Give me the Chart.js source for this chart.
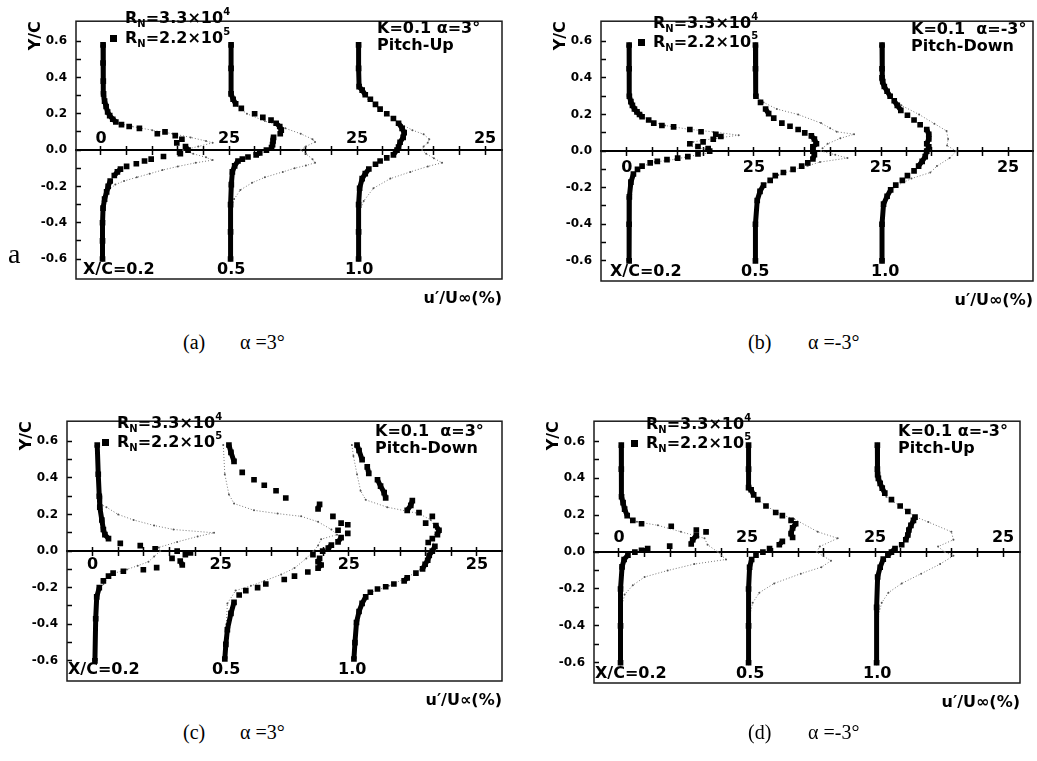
<!DOCTYPE html>
<html>
<head>
<meta charset="utf-8">
<script src="https://cdn.jsdelivr.net/npm/chart.js@4.4.0/dist/chart.umd.min.js"></script>
<style>
body { margin: 0; background: #fff; width: 1037px; height: 761px; position: relative; overflow: hidden; font-family: "DejaVu Sans", sans-serif; }
canvas { position: absolute; }
.t { position: absolute; font-weight: bold; font-size: 16px; line-height: 1; white-space: pre; color: #000; }
.t sub { font-size: 10px; vertical-align: -4px; line-height: 0; }
.t sup { font-size: 10px; vertical-align: 8px; line-height: 0; }
.mk { display: inline-block; width: 7px; height: 7px; background: #000; margin-right: 8px; vertical-align: 1px; }
.cap { position: absolute; font-family: "Liberation Serif", serif; font-size: 20px; line-height: 1; white-space: pre; color: #000; }
</style>
</head>
<body>
<canvas id="pa" width="494" height="311" style="left:26px;top:0px"></canvas>
<canvas id="pb" width="486" height="313" style="left:551px;top:0px"></canvas>
<canvas id="pc" width="503" height="313" style="left:17px;top:400px"></canvas>
<canvas id="pd" width="493" height="315" style="left:544px;top:400px"></canvas>

<!-- (a) -->
<div class="t" style="left:125px;top:10px">R<sub>N</sub>=3.3×10<sup>4</sup></div>
<div class="t" style="left:110px;top:30px"><span class="mk"></span>R<sub>N</sub>=2.2×10<sup>5</sup></div>
<div class="t" style="left:377px;top:20px">K=0.1 α=3°</div>
<div class="t" style="left:377px;top:37px">Pitch-Up</div>
<div class="t" style="left:83px;top:261px">X/C=0.2</div>
<div class="t" style="left:217px;top:261px">0.5</div>
<div class="t" style="left:345px;top:261px">1.0</div>
<div class="cap" style="left:8px;top:240px;font-size:28px">a</div>
<div class="cap" style="left:183px;top:332px">(a)</div>
<div class="cap" style="left:240px;top:332px">α =3°</div>

<!-- (b) -->
<div class="t" style="left:653px;top:15px">R<sub>N</sub>=3.3×10<sup>4</sup></div>
<div class="t" style="left:638px;top:34px"><span class="mk"></span>R<sub>N</sub>=2.2×10<sup>5</sup></div>
<div class="t" style="left:911px;top:21px">K=0.1  α=-3°</div>
<div class="t" style="left:911px;top:38px">Pitch-Down</div>
<div class="t" style="left:610px;top:263px">X/C=0.2</div>
<div class="t" style="left:741px;top:263px">0.5</div>
<div class="t" style="left:871px;top:263px">1.0</div>
<div class="cap" style="left:748px;top:332px">(b)</div>
<div class="cap" style="left:808px;top:332px">α =-3°</div>

<!-- (c) -->
<div class="t" style="left:117px;top:415px">R<sub>N</sub>=3.3×10<sup>4</sup></div>
<div class="t" style="left:102px;top:434px"><span class="mk"></span>R<sub>N</sub>=2.2×10<sup>5</sup></div>
<div class="t" style="left:375px;top:423px">K=0.1  α=3°</div>
<div class="t" style="left:375px;top:440px">Pitch-Down</div>
<div class="t" style="left:68px;top:661px">X/C=0.2</div>
<div class="t" style="left:212px;top:661px">0.5</div>
<div class="t" style="left:338px;top:661px">1.0</div>
<div class="cap" style="left:183px;top:722px">(c)</div>
<div class="cap" style="left:240px;top:722px">α =3°</div>

<!-- (d) -->
<div class="t" style="left:646px;top:416px">R<sub>N</sub>=3.3×10<sup>4</sup></div>
<div class="t" style="left:631px;top:435px"><span class="mk"></span>R<sub>N</sub>=2.2×10<sup>5</sup></div>
<div class="t" style="left:898px;top:423px">K=0.1 α=-3°</div>
<div class="t" style="left:898px;top:440px">Pitch-Up</div>
<div class="t" style="left:595px;top:665px">X/C=0.2</div>
<div class="t" style="left:736px;top:665px">0.5</div>
<div class="t" style="left:863px;top:665px">1.0</div>
<div class="cap" style="left:748px;top:722px">(d)</div>
<div class="cap" style="left:808px;top:722px">α =-3°</div>

<script>
// profiles are drawn at X/C = 0.2, 0.5, 1.0, each shifted 25 % along u'/U∞
const stationBase = [0, 25, 50];

const xTickValues = [0, 5, 10, 15, 20, 25, 30, 35, 40, 45, 50, 55, 60, 65, 70, 75];
const xMajorValues = [0, 25, 50, 75];
const xMajorLabels = ['0', '25', '25', '25'];
const yTickValues = [-0.6, -0.5, -0.4, -0.3, -0.2, -0.1, 0, 0.1, 0.2, 0.3, 0.4, 0.5, 0.6];
const yLabelValues = [-0.6, -0.4, -0.2, 0, 0.2, 0.4, 0.6];
const yTickLabels = ['-0.6', '-0.4', '-0.2', '0.0', '0.2', '0.4', '0.6'];

// ---- (a) K=0.1 α=3° pitch-up ----
// "s" = RN=2.2x10^5 (squares), "d" = RN=3.3x10^4 (small dots)
const aY1s = [0.58, 0.48, 0.38, 0.31, 0.27, 0.24, 0.21, 0.19, 0.17, 0.155, 0.14, 0.13, 0.12, 0.10, 0.09, 0.08, 0.06, 0.04, 0.02, 0.0, -0.02, -0.035, -0.05, -0.06, -0.075, -0.09, -0.105, -0.12, -0.14, -0.17, -0.2, -0.23, -0.27, -0.32, -0.4, -0.5, -0.6];
const aU1s = [0.4, 0.4, 0.45, 0.5, 0.7, 1.0, 1.3, 1.7, 2.3, 2.9, 4.0, 5.5, 7.5, 12.5, 11.0, 14.5, 15.8, 14.8, 16.5, 17.0, 15.5, 12.2, 9.8, 8.5, 6.9, 5.0, 3.8, 3.2, 2.6, 1.8, 1.4, 1.1, 0.7, 0.4, 0.3, 0.3, 0.3];
const aY1d = [0.58, 0.4, 0.3, 0.22, 0.18, 0.15, 0.13, 0.11, 0.09, 0.07, 0.05, 0.04, 0.02, 0.0, -0.02, -0.04, -0.055, -0.07, -0.09, -0.11, -0.13, -0.15, -0.17, -0.19, -0.22, -0.26, -0.35, -0.6];
const aU1d = [0.4, 0.4, 0.5, 1.1, 1.8, 3.0, 6.0, 10.0, 14.0, 17.5, 20.5, 21.8, 19.0, 16.0, 18.0, 20.5, 21.8, 18.5, 15.0, 12.0, 9.5, 7.0, 4.5, 2.8, 1.5, 0.7, 0.3, 0.3];
const aY2s = [0.58, 0.45, 0.31, 0.28, 0.255, 0.23, 0.2, 0.18, 0.165, 0.148, 0.13, 0.11, 0.09, 0.07, 0.05, 0.03, 0.014, 0.0, -0.015, -0.026, -0.038, -0.05, -0.06, -0.087, -0.12, -0.19, -0.3, -0.45, -0.6];
const aU2s = [0.4, 0.4, 0.4, 0.8, 1.3, 2.4, 5.0, 6.6, 8.2, 9.2, 9.9, 10.2, 10.0, 8.7, 8.6, 8.5, 8.3, 7.3, 6.0, 5.3, 3.7, 2.6, 1.75, 1.1, 0.65, 0.45, 0.3, 0.3, 0.3];
const aY2d = [0.58, 0.4, 0.28, 0.25, 0.2, 0.16, 0.12, 0.09, 0.06, 0.045, 0.02, 0.0, -0.02, -0.05, -0.07, -0.085, -0.1, -0.12, -0.15, -0.18, -0.22, -0.27, -0.32, -0.6];
const aU2d = [0.4, 0.4, 0.6, 1.2, 3.5, 7.0, 11.0, 14.0, 16.3, 16.8, 15.0, 14.0, 15.0, 16.3, 16.8, 15.0, 12.8, 10.5, 7.0, 4.5, 2.2, 1.0, 0.5, 0.3];
const aY3s = [0.58, 0.45, 0.35, 0.33, 0.305, 0.28, 0.252, 0.226, 0.2, 0.174, 0.148, 0.12, 0.096, 0.07, 0.043, 0.017, 0.0, -0.026, -0.043, -0.06, -0.078, -0.104, -0.13, -0.157, -0.21, -0.3, -0.45, -0.6];
const aU3s = [0.3, 0.3, 0.4, 1.0, 1.6, 2.6, 3.6, 4.5, 5.8, 7.1, 8.1, 8.8, 9.2, 9.0, 8.4, 8.1, 7.8, 7.1, 5.8, 4.5, 3.6, 2.3, 1.6, 1.0, 0.5, 0.3, 0.3, 0.3];
const aY3d = [0.58, 0.4, 0.33, 0.28, 0.23, 0.18, 0.14, 0.11, 0.087, 0.06, 0.04, 0.02, 0.0, -0.02, -0.045, -0.07, -0.09, -0.12, -0.157, -0.21, -0.28, -0.33, -0.6];
const aU3d = [0.3, 0.3, 0.8, 2.2, 4.2, 6.8, 8.8, 10.8, 13.0, 14.1, 13.8, 13.0, 12.7, 13.5, 15.0, 16.6, 13.8, 10.4, 6.5, 3.2, 1.3, 0.6, 0.3];

// ---- (b) K=0.1 α=-3° pitch-down ----
const bY1s = [0.58, 0.45, 0.3, 0.27, 0.25, 0.23, 0.214, 0.2, 0.188, 0.17, 0.153, 0.14, 0.132, 0.118, 0.106, 0.092, 0.08, 0.065, 0.05, 0.04, 0.025, 0.014, 0.0, -0.015, -0.03, -0.038, -0.047, -0.056, -0.064, -0.082, -0.1, -0.125, -0.17, -0.25, -0.4, -0.6];
const bU1s = [0.45, 0.45, 0.5, 0.8, 1.1, 1.5, 2.0, 2.5, 3.0, 4.3, 5.3, 6.9, 9.2, 12.4, 14.6, 17.5, 18.5, 17.0, 15.0, 12.4, 14.0, 16.0, 16.3, 14.0, 12.0, 10.0, 7.9, 6.0, 4.6, 3.0, 2.1, 1.3, 0.8, 0.5, 0.45, 0.45];
const bY1d = [0.58, 0.4, 0.25, 0.2, 0.16, 0.14, 0.12, 0.105, 0.087, 0.07, 0.05, 0.03, 0.01, -0.01, -0.03, -0.045, -0.06, -0.08, -0.1, -0.13, -0.17, -0.25, -0.6];
const bU1d = [0.45, 0.45, 1.1, 2.5, 5.0, 7.5, 12.0, 17.0, 22.0, 17.5, 13.0, 12.0, 15.5, 16.0, 12.0, 9.5, 5.5, 3.3, 2.2, 1.4, 0.8, 0.5, 0.45];
const bY2s = [0.58, 0.45, 0.3, 0.266, 0.23, 0.205, 0.18, 0.153, 0.136, 0.118, 0.1, 0.083, 0.066, 0.04, 0.023, 0.0, -0.02, -0.043, -0.064, -0.082, -0.1, -0.117, -0.134, -0.16, -0.186, -0.22, -0.27, -0.4, -0.6];
const bU2s = [0.3, 0.3, 0.4, 1.3, 2.3, 2.9, 3.9, 5.5, 7.1, 8.7, 10.0, 11.3, 11.9, 12.3, 11.6, 11.6, 11.9, 11.6, 10.6, 9.4, 7.7, 5.8, 4.2, 3.2, 1.9, 1.2, 0.65, 0.3, 0.3];
const bY2d = [0.58, 0.4, 0.3, 0.266, 0.23, 0.2, 0.153, 0.125, 0.106, 0.092, 0.07, 0.04, 0.015, 0.0, -0.02, -0.038, -0.06, -0.08, -0.1, -0.13, -0.16, -0.2, -0.27, -0.6];
const bU2d = [0.3, 0.3, 0.5, 1.9, 4.5, 8.7, 13.2, 15.0, 16.3, 19.7, 17.0, 14.5, 13.5, 13.2, 16.0, 18.4, 13.0, 10.6, 8.0, 4.8, 3.0, 1.6, 0.65, 0.3];
const bY3s = [0.58, 0.45, 0.4, 0.38, 0.353, 0.327, 0.3, 0.275, 0.25, 0.223, 0.196, 0.17, 0.144, 0.118, 0.092, 0.066, 0.04, 0.023, 0.0, -0.03, -0.056, -0.082, -0.108, -0.134, -0.16, -0.186, -0.212, -0.247, -0.29, -0.4, -0.6];
const bU3s = [0.2, 0.2, 0.2, 0.35, 0.65, 1.2, 1.8, 2.6, 3.2, 3.9, 5.2, 6.5, 7.7, 9.0, 9.4, 9.4, 9.0, 9.4, 9.0, 8.7, 8.1, 7.4, 6.5, 5.2, 4.2, 2.9, 1.9, 1.2, 0.5, 0.2, 0.2];
const bY3d = [0.58, 0.4, 0.3, 0.25, 0.2, 0.15, 0.11, 0.066, 0.03, 0.0, -0.038, -0.082, -0.117, -0.15, -0.19, -0.25, -0.3, -0.6];
const bU3d = [0.2, 0.2, 1.8, 4.0, 7.5, 10.5, 12.9, 13.2, 13.0, 14.8, 13.5, 11.0, 9.7, 6.0, 3.0, 1.1, 0.5, 0.2];

// ---- (c) K=0.1 α=3° pitch-down ----
const cY1s = [0.58, 0.42, 0.3, 0.24, 0.17, 0.118, 0.09, 0.068, 0.042, 0.03, 0.012, 0.0, -0.01, -0.02, -0.04, -0.054, -0.076, -0.09, -0.102, -0.11, -0.12, -0.137, -0.163, -0.2, -0.25, -0.37, -0.6];
const cU1s = [0.9, 1.1, 1.3, 1.4, 1.8, 2.1, 2.4, 3.1, 5.4, 9.3, 12.2, 16.5, 19.1, 18.1, 15.5, 17.1, 17.5, 12.5, 9.9, 6.0, 4.0, 3.1, 2.1, 1.3, 0.8, 0.6, 0.45];
const cY1d = [0.58, 0.4, 0.26, 0.24, 0.2, 0.17, 0.14, 0.118, 0.1, 0.08, 0.05, 0.02, 0.0, -0.03, -0.058, -0.08, -0.1, -0.128, -0.18, -0.25, -0.6];
const cU1d = [0.9, 1.0, 1.3, 2.7, 5.0, 8.0, 12.0, 15.8, 23.7, 20.5, 16.5, 12.9, 13.2, 12.0, 10.9, 8.8, 6.7, 3.4, 2.1, 0.8, 0.45];
const cY2s = [0.58, 0.54, 0.49, 0.43, 0.39, 0.36, 0.33, 0.29, 0.255, 0.23, 0.19, 0.153, 0.144, 0.114, 0.097, 0.074, 0.05, 0.033, 0.016, 0.0, -0.02, -0.04, -0.058, -0.076, -0.093, -0.114, -0.137, -0.155, -0.18, -0.2, -0.216, -0.24, -0.28, -0.34, -0.43, -0.51, -0.59];
const cU2s = [1.6, 2.0, 2.6, 4.2, 6.5, 8.5, 10.8, 12.7, 19.3, 19.0, 21.9, 23.5, 24.8, 22.9, 24.8, 23.5, 22.9, 21.6, 21.0, 19.9, 18.0, 19.3, 19.0, 19.6, 19.0, 17.0, 14.4, 12.4, 8.8, 7.2, 4.9, 3.6, 2.6, 2.0, 1.3, 1.0, 0.8];
const cY2d = [0.58, 0.42, 0.31, 0.26, 0.223, 0.205, 0.19, 0.16, 0.118, 0.09, 0.065, 0.03, 0.0, -0.04, -0.093, -0.128, -0.163, -0.19, -0.216, -0.286, -0.4, -0.59];
const cU2d = [0.5, 0.8, 1.6, 2.6, 6.5, 11.1, 15.7, 19.0, 21.6, 22.7, 19.6, 19.0, 18.1, 16.7, 14.4, 11.8, 8.5, 5.9, 2.9, 1.3, 1.1, 0.8];
const cY3s = [0.58, 0.55, 0.5, 0.46, 0.425, 0.39, 0.355, 0.32, 0.29, 0.276, 0.25, 0.223, 0.21, 0.19, 0.153, 0.14, 0.114, 0.09, 0.068, 0.047, 0.026, 0.0, -0.023, -0.05, -0.072, -0.097, -0.12, -0.146, -0.163, -0.18, -0.195, -0.207, -0.225, -0.25, -0.286, -0.33, -0.39, -0.5, -0.59];
const cU3s = [1.6, 2.0, 2.6, 3.6, 3.9, 5.6, 6.2, 6.9, 7.2, 12.4, 12.1, 11.4, 13.7, 16.3, 15.0, 17.0, 17.6, 17.3, 16.3, 15.5, 16.8, 16.3, 15.7, 15.4, 14.9, 14.4, 13.1, 11.4, 10.8, 8.8, 7.2, 5.6, 4.2, 3.3, 2.6, 2.0, 1.5, 1.2, 1.0];
const cY3d = [0.58, 0.52, 0.42, 0.33, 0.28, 0.24, 0.205, 0.17, 0.12, 0.07, 0.03, 0.0, -0.05, -0.1, -0.15, -0.19, -0.23, -0.3, -0.4, -0.59];
const cU3d = [0.6, 0.9, 1.6, 2.3, 3.3, 7.5, 13.7, 16.0, 17.0, 16.5, 16.5, 16.8, 15.0, 14.0, 11.0, 7.8, 4.0, 2.3, 1.5, 1.0];

// ---- (d) K=0.1 α=-3° pitch-up ----
const dY1s = [0.58, 0.45, 0.3, 0.268, 0.233, 0.198, 0.172, 0.154, 0.14, 0.12, 0.11, 0.089, 0.067, 0.044, 0.032, 0.019, 0.01, 0.0, -0.016, -0.04, -0.08, -0.2, -0.4, -0.6];
const dU1s = [0.45, 0.45, 0.5, 0.8, 1.1, 1.6, 2.7, 4.4, 10.2, 15.1, 17.0, 15.1, 14.4, 14.1, 9.9, 5.6, 4.4, 3.1, 1.75, 1.0, 0.6, 0.3, 0.3, 0.3];
const dY1d = [0.58, 0.4, 0.25, 0.19, 0.165, 0.145, 0.11, 0.075, 0.04, 0.0, -0.04, -0.065, -0.1, -0.135, -0.18, -0.23, -0.3, -0.6];
const dU1d = [0.45, 0.45, 0.9, 1.6, 3.5, 7.6, 12.1, 16.7, 17.3, 19.3, 20.9, 14.7, 9.5, 5.0, 2.7, 1.1, 0.5, 0.3];
const dY2s = [0.58, 0.45, 0.35, 0.338, 0.31, 0.285, 0.25, 0.215, 0.198, 0.172, 0.154, 0.131, 0.1, 0.079, 0.058, 0.04, 0.019, 0.0, -0.016, -0.04, -0.082, -0.2, -0.4, -0.6];
const dU2s = [0.3, 0.3, 0.3, 0.8, 1.3, 2.1, 3.7, 5.6, 6.9, 8.6, 9.5, 8.9, 8.6, 8.9, 6.9, 6.3, 4.4, 3.1, 1.75, 0.9, 0.5, 0.3, 0.3, 0.3];
const dY2d = [0.58, 0.4, 0.3, 0.25, 0.2, 0.18, 0.11, 0.075, 0.03, 0.0, -0.047, -0.082, -0.117, -0.17, -0.22, -0.275, -0.35, -0.6];
const dU2d = [0.3, 0.3, 1.5, 3.7, 7.0, 9.2, 13.8, 17.7, 14.2, 13.6, 16.4, 14.5, 10.5, 5.3, 2.4, 1.1, 0.5, 0.3];
const dY3s = [0.58, 0.45, 0.42, 0.4, 0.373, 0.347, 0.32, 0.285, 0.25, 0.22, 0.19, 0.172, 0.145, 0.12, 0.093, 0.067, 0.04, 0.019, 0.0, -0.016, -0.038, -0.082, -0.135, -0.3, -0.6];
const dU3s = [0.45, 0.45, 0.5, 0.65, 1.0, 1.4, 1.9, 3.2, 4.9, 6.4, 7.8, 7.5, 7.0, 6.6, 6.4, 6.0, 5.2, 3.9, 3.2, 2.5, 1.6, 1.0, 0.5, 0.3, 0.3];
const dY3d = [0.58, 0.4, 0.3, 0.22, 0.19, 0.163, 0.11, 0.067, 0.03, 0.0, -0.02, -0.065, -0.117, -0.17, -0.22, -0.275, -0.35, -0.6];
const dU3d = [0.45, 0.45, 2.2, 6.4, 8.0, 10.4, 14.9, 15.3, 12.3, 13.6, 15.3, 12.7, 9.0, 5.2, 2.6, 1.3, 0.6, 0.3];

Chart.defaults.font.family = '"DejaVu Sans", sans-serif';
Chart.defaults.color = '#000';

// marco del área de trazado
const boxPlugin = {
    id: 'box',
    afterDatasetsDraw(chart) {
        const { ctx, chartArea: a } = chart;
        ctx.save();
        ctx.strokeStyle = '#1a1a1a';
        ctx.lineWidth = 1.5;
        ctx.strokeRect(a.left, a.top, a.right - a.left, a.bottom - a.top);
        ctx.restore();
    }
};

function toPoints(ys, us, base) {
    return ys.map((y, i) => ({ x: us[i] + base, y: y }));
}

function setXTicks(scale) { scale.ticks = xTickValues.map(v => ({ value: v })); }
function setYTicks(scale) { scale.ticks = yTickValues.map(v => ({ value: v })); }

function dibujarPanel(id, cfg) {
    const datasets = [];
    cfg.squares.forEach((c, i) => {
        datasets.push({
            label: 'RN=2.2x10^5',
            data: toPoints(c[0], c[1], stationBase[i]),
            showLine: true,
            borderColor: '#000',
            borderWidth: 5,
            borderJoinStyle: 'round',
            pointStyle: 'rect',
            pointRadius: 4,
            pointBackgroundColor: '#000',
            pointBorderWidth: 0,
            order: 0,
            // solo une los puntos casi verticales (zona de corriente libre)
            segment: {
                borderColor: s => Math.abs(s.p1.x - s.p0.x) <= 4 ? '#000' : 'rgba(0,0,0,0)'
            }
        });
    });
    cfg.dots.forEach((c, i) => {
        datasets.push({
            label: 'RN=3.3x10^4',
            data: toPoints(c[0], c[1], stationBase[i]),
            showLine: true,
            borderColor: '#777',
            borderWidth: 1,
            borderDash: [1, 2],
            pointRadius: 1,
            pointBackgroundColor: '#555',
            pointBorderWidth: 0,
            order: 1
        });
    });

    const tickFont = { family: '"DejaVu Sans"', weight: 'bold', size: 16 };

    new Chart(document.getElementById(id), {
        type: 'scatter',
        data: { datasets },
        plugins: [boxPlugin],
        options: {
            responsive: false,
            animation: false,
            devicePixelRatio: 1,
            layout: { padding: { top: cfg.padTop, right: cfg.padRight, bottom: 0, left: 0 } },
            plugins: { legend: { display: false }, tooltip: { enabled: false } },
            scales: {
                x: {
                    type: 'linear', min: cfg.xMin, max: cfg.xMax, position: { y: 0 },
                    afterBuildTicks: setXTicks,
                    grid: { drawOnChartArea: false, tickLength: 4, tickColor: '#000', tickWidth: 1.5 },
                    border: { display: true, color: '#000', width: 2 },
                    ticks: {
                        autoSkip: false, maxRotation: 0, padding: cfg.xLabelPad, font: tickFont, color: '#000',
                        callback: v => { const i = xMajorValues.indexOf(v); return i >= 0 ? xMajorLabels[i] : ''; }
                    }
                },
                xUp: {
                    type: 'linear', min: cfg.xMin, max: cfg.xMax, position: { y: 0 },
                    afterBuildTicks: setXTicks,
                    grid: { drawOnChartArea: false, tickLength: -4, tickColor: '#000', tickWidth: 1.5 },
                    border: { display: false },
                    ticks: { display: false }
                },
                xBot: {
                    type: 'linear', min: cfg.xMin, max: cfg.xMax, position: 'bottom',
                    grid: { display: false }, border: { display: false }, ticks: { display: false },
                    title: { display: true, text: cfg.xTitle, align: 'end', color: '#000', padding: { top: 0, bottom: 3 },
                             font: { family: '"DejaVu Sans"', weight: 'bold', size: 16 } },
                    afterFit: s => { s.height = 32; }
                },
                y: {
                    type: 'linear', position: 'left', min: -0.71, max: 0.71,
                    afterBuildTicks: setYTicks,
                    afterFit: s => { s.width = 50; },
                    grid: { drawOnChartArea: false, tickLength: -5, tickColor: '#000', tickWidth: 1.5 },
                    border: { display: false },
                    ticks: {
                        autoSkip: false, padding: 14, color: '#000',
                        font: { family: '"DejaVu Sans"', weight: 'bold', size: 12 },
                        callback: v => {
                            const i = yLabelValues.findIndex(t => Math.abs(t - v) < 1e-9);
                            return i >= 0 ? yTickLabels[i] : '';
                        }
                    },
                    title: { display: true, text: 'Y/C', align: 'end', color: '#000', padding: 0,
                             font: { family: '"DejaVu Sans"', weight: 'bold', size: 16 } }
                }
            }
        }
    });
}

dibujarPanel('pa', {
    squares: [[aY1s, aU1s], [aY2s, aU2s], [aY3s, aU3s]],
    dots: [[aY1d, aU1d], [aY2d, aU2d], [aY3d, aU3d]],
    padTop: 5, padRight: 18, xMin: -4.88, xMax: 78.3, xLabelPad: -25, xTitle: 'u′/U∞(%)'
});
dibujarPanel('pb', {
    squares: [[bY1s, bU1s], [bY2s, bU2s], [bY3s, bU3s]],
    dots: [[bY1d, bU1d], [bY2d, bU2d], [bY3d, bU3d]],
    padTop: 8, padRight: 1, xMin: -5.08, xMax: 79.9, xLabelPad: 3, xTitle: 'u′/U∞(%)'
});
dibujarPanel('pc', {
    squares: [[cY1s, cU1s], [cY2s, cU2s], [cY3s, cU3s]],
    dots: [[cY1d, cU1d], [cY2d, cU2d], [cY3d, cU3d]],
    padTop: 11, padRight: 18, xMin: -5.0, xMax: 79.9, xLabelPad: 0, xTitle: 'u′/U∝(%)'
});
dibujarPanel('pd', {
    squares: [[dY1s, dU1s], [dY2s, dU2s], [dY3s, dU3s]],
    dots: [[dY1d, dU1d], [dY2d, dU2d], [dY3d, dU3d]],
    padTop: 13, padRight: 17, xMin: -4.88, xMax: 78.3, xLabelPad: -28, xTitle: 'u′/U∞(%)'
});
</script>
</body>
</html>
